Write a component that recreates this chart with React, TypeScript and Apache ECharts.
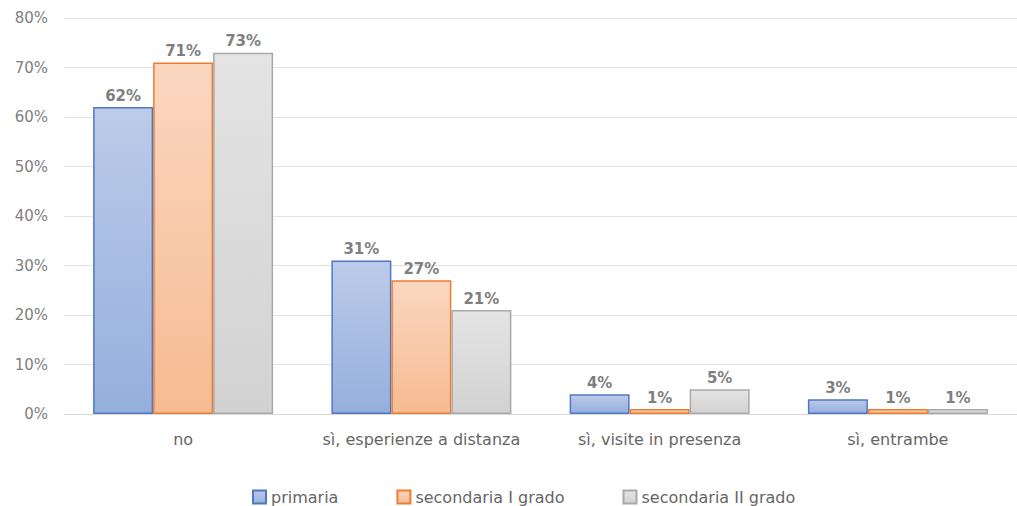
import React, { useEffect, useRef } from "react";
import * as echarts from "echarts";

const categories = ["no", "sì, esperienze a distanza", "sì, visite in presenza", "sì, entrambe"];
const primaria = [62, 31, 4, 3];
const secondariaI = [71, 27, 1, 1];
const secondariaII = [73, 21, 5, 1];
const yTicks = [0, 10, 20, 30, 40, 50, 60, 70, 80];

const FONT = "'DejaVu Sans', 'Open Sans', sans-serif";

function grad(top: string, bottom: string) {
  return new echarts.graphic.LinearGradient(0, 0, 0, 1, [
    { offset: 0, color: top },
    { offset: 1, color: bottom },
  ]);
}

export default function App() {
  const ref = useRef<HTMLDivElement>(null);
  useEffect(() => {
    document.body.style.margin = "0";
    const chart = echarts.init(ref.current!, null, { renderer: "svg" });
    const label = {
      show: true,
      position: "top" as const,
      formatter: "{c}%",
      color: "#7f7f7f",
      fontWeight: "bold" as const,
      fontSize: 15,
      fontFamily: FONT,
      distance: 4,
    };
    const mk = (name: string, data: number[], top: string, bottom: string, border: string) => ({
      name,
      type: "bar" as const,
      data,
      barWidth: 60,
      barGap: "0%",
      itemStyle: { color: grad(top, bottom), borderColor: border, borderWidth: 1.5 },
      label,
    });
    chart.setOption({
      animation: false,
      grid: { left: 64, width: 956, top: 18, bottom: 92, containLabel: false },
      legend: {
        top: 484,
        left: 247,
        icon: "rect",
        itemWidth: 13,
        itemHeight: 13,
        itemGap: 58,
        textStyle: { color: "#666666", fontSize: 16, fontFamily: FONT },
        data: ["primaria", "secondaria I grado", "secondaria II grado"],
      },
      xAxis: {
        type: "category",
        data: categories,
        axisTick: { show: false },
        axisLine: { lineStyle: { color: "#d9d9d9" } },
        axisLabel: { color: "#666666", fontSize: 16, fontFamily: FONT, margin: 17, interval: 0 },
      },
      yAxis: {
        type: "value",
        min: yTicks[0],
        max: yTicks[yTicks.length - 1],
        interval: 10,
        axisLabel: { formatter: "{value}%", color: "#7f7f7f", fontSize: 15, fontFamily: FONT, margin: 16 },
        splitLine: { lineStyle: { color: "#e3e3e3" } },
        axisLine: { show: false },
        axisTick: { show: false },
      },
      series: [
        mk("primaria", primaria, "#bccbe9", "#95afdd", "#4f78c4"),
        mk("secondaria I grado", secondariaI, "#fbd7c0", "#f6bb92", "#ed7d31"),
        mk("secondaria II grado", secondariaII, "#e4e4e4", "#d2d2d2", "#a9a9a9"),
      ],
    });
    return () => chart.dispose();
  }, []);
  return <div ref={ref} style={{ width: 1017, height: 506 }} />;
}
